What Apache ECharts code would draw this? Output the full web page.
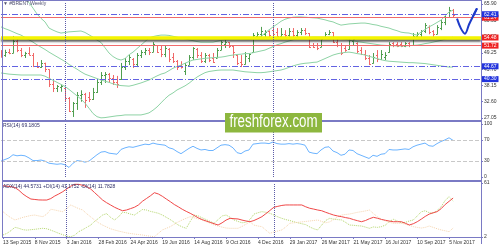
<!DOCTYPE html>
<html><head><meta charset="utf-8">
<script src="https://cdn.jsdelivr.net/npm/echarts@6/dist/echarts.min.js"></script>
<style>html,body{margin:0;padding:0;background:#fff;}#c{width:500px;height:250px;}</style>
</head><body><div id="c"></div>
<script>
const tickLabels = ['13 Sep 2015','8 Nov 2015','3 Jan 2016','28 Feb 2016','24 Apr 2016','19 Jun 2016','14 Aug 2016','9 Oct 2016','4 Dec 2016','29 Jan 2017','26 Mar 2017','21 May 2017','16 Jul 2017','10 Sep 2017','5 Nov 2017'];

const opens = [49.0,48.4,49.6,49.3,53.2,50.3,48.6,49.3,48.6,44.8,
 44.6,45.8,43.6,38.5,37.3,37.6,37.2,33.7,29.6,32.0,
 35.0,35.3,34.2,33.5,36.0,39.2,41.8,42.2,40.6,39.4,
 40.4,44.6,46.5,47.2,45.6,48.6,49.5,50.2,49.6,51.8,
 50.6,48.8,50.6,47.8,46.5,45.2,43.0,45.2,47.8,50.4,
 48.4,46.5,48.6,47.6,47.6,50.2,52.4,52.8,51.6,48.5,
 46.2,45.4,47.6,49.4,55.0,55.8,55.8,56.6,57.0,56.2,
 55.0,55.8,55.2,56.6,55.4,56.2,56.9,56.0,52.0,51.8,
 51.4,54.3,55.8,56.2,53.0,51.9,50.8,50.4,53.2,52.6,
 50.2,48.8,47.4,45.8,48.6,47.0,47.8,49.5,52.6,52.4,
 52.4,51.7,52.6,52.0,55.0,55.8,56.6,58.2,56.6,55.8,
 57.8,59.6,61.6,63.8];
const highs = [50.2,50.3,50.6,55.0,54.6,50.9,49.6,51.2,49.2,46.1,
 46.8,45.9,43.6,40.0,38.3,38.4,37.4,34.2,32.5,35.9,
 36.5,35.6,35.9,37.3,40.0,42.7,42.7,42.4,41.7,41.4,
 45.8,47.5,48.5,47.5,49.2,50.2,50.9,50.9,52.9,51.9,
 51.9,51.9,50.9,49.2,46.8,46.4,45.8,48.5,51.2,50.9,
 49.5,49.2,48.9,49.2,50.9,53.6,54.3,52.9,51.9,48.5,
 48.5,49.5,49.2,56.0,56.3,58.1,57.0,56.9,58.8,57.7,
 57.7,57.0,57.7,57.7,57.0,57.7,57.7,56.0,52.6,52.6,
 54.6,56.3,57.0,56.3,54.3,52.6,51.6,54.6,54.3,52.9,
 51.2,50.2,48.5,49.2,50.2,50.2,49.5,52.9,52.9,52.9,
 52.9,52.9,52.9,56.0,56.3,57.0,59.4,58.6,57.0,58.7,
 60.4,62.1,64.9,64.2];
const lows = [47.6,47.9,48.8,49.1,49.5,47.8,47.5,48.4,44.4,44.1,
 44.1,42.7,37.6,35.9,35.9,36.0,32.5,29.1,27.4,29.8,
 32.6,30.5,32.5,33.2,35.6,38.3,39.0,39.0,38.3,37.3,
 40.0,43.4,45.1,44.1,44.4,47.5,48.5,48.5,49.5,49.2,
 47.8,47.8,46.1,45.8,43.4,43.9,41.7,45.1,46.8,47.5,
 45.8,45.8,46.1,45.8,47.5,50.2,50.9,50.9,47.5,45.1,
 44.4,45.3,46.1,49.2,54.3,54.6,54.6,54.3,54.6,54.3,
 54.6,54.3,54.6,54.3,54.6,55.3,55.3,50.9,50.9,50.2,
 51.2,54.2,55.3,52.6,51.2,48.5,49.6,50.3,51.9,49.2,
 48.5,46.8,45.1,45.6,46.1,46.8,46.8,49.3,51.2,51.2,
 51.2,51.2,51.2,51.9,54.3,54.6,56.0,55.6,54.7,55.6,
 57.0,58.7,61.5,61.2];
const closes = [48.2,49.6,49.2,53.2,50.3,48.6,49.3,48.6,44.8,44.6,
 45.8,43.6,38.5,37.3,38.0,37.9,33.7,29.6,32.0,35.0,
 35.3,33.2,33.5,36.0,39.2,41.8,42.2,40.6,39.4,38.6,
 44.6,46.5,48.0,45.6,48.6,49.5,50.2,49.4,52.2,49.6,
 48.8,51.0,47.0,46.5,44.6,44.3,45.2,47.8,50.8,48.4,
 46.5,48.6,46.8,46.2,50.2,52.8,53.0,51.6,49.5,45.8,
 45.4,48.2,48.8,55.2,55.8,56.6,56.3,55.4,55.6,55.0,
 55.8,55.2,56.6,55.4,56.3,56.9,56.0,51.4,51.2,50.8,
 54.0,55.8,56.4,53.0,51.9,49.2,50.2,53.6,53.9,49.9,
 48.8,47.4,45.6,48.0,47.0,49.0,48.6,52.2,51.8,51.6,
 51.7,52.6,51.9,55.0,55.8,56.6,58.6,56.2,55.6,58.2,
 59.8,61.6,63.8,62.0];

const bbUpper = [71,70.5,70,69.5,68.8,68,67.3,66.4,64.5,62.5,
 61,59.8,57.7,57,56.4,56,56.2,56.4,56.5,56.6,
 56.7,56.2,55.4,54.6,53.6,52.8,51,49.2,48,47.2,
 46.8,47.3,48.6,49.5,50.7,51.9,53.1,54.3,54.8,55.1,
 55.3,55.3,55.2,54.9,54.6,54.3,54,53.7,53.4,53.1,
 52.9,52.9,52.9,52.9,53.2,53.5,53.8,53.9,53.9,53.9,
 53.9,53.8,53.8,54.1,54.4,54.8,56,57.1,58.1,59,
 60,60.7,61.1,61.4,61.5,61.5,61.4,61.3,61.2,61.1,
 60.8,60.5,60.1,59.8,59.2,58.7,58.9,59.1,59.2,59.3,
 59.4,59.4,59.2,58.9,58.7,58.3,58,57.7,57.2,56.8,
 56.3,56.1,56,55.6,55.3,56.3,57.2,58.1,58.8,59.6,
 60.4,61.8,63.2,63.8];
const bbMiddle = [58.1,57.5,57,56.4,55.8,55.3,54.5,53.7,52.9,52,
 51.2,50.4,49.5,48.7,47.9,47.1,46.3,45.3,44.5,43.7,
 42.8,42,41.5,41,40.5,40,39.6,39.2,38.7,38.3,
 38.1,38,37.9,38.2,38.6,39,39.5,40,40.7,41.4,
 42,42.4,43.2,44,44.6,45.1,45.7,46.3,46.8,47,
 47.2,47.4,47.5,47.6,47.7,47.8,48,48.3,48.5,48.7,
 48.8,49,49,49.3,49.6,49.9,50.2,50.8,51.4,52,
 52.4,52.9,53.3,53.7,54.1,54.3,54.4,54.5,54.6,54.6,
 54.6,54.6,54.6,54.6,54.4,54.1,53.9,53.6,53.4,53.1,
 52.9,52.7,52.5,52.3,52.1,51.9,51.8,51.7,51.7,51.6,
 51.6,51.6,51.7,51.8,51.9,52.1,52.4,52.6,52.9,53.2,
 53.5,53.9,54.3,54.6];
const bbLower = [42.4,42.2,42,41.9,41.8,41.7,41.7,41.7,41.7,41.7,
 41.7,41.3,40.6,39.9,39.2,38.5,37.8,36.8,35.7,34.6,
 33.5,32.1,30.4,28.6,27.5,27.1,27.2,27.4,27.6,27.8,
 27.9,28.1,28.1,28.1,28.1,28.1,28.4,28.8,29.7,30.8,
 32.2,33.6,34.8,35.6,36.6,37.3,38,38.9,40,41,
 41.8,42.5,42.9,43.1,43.3,43.4,43.4,43.4,43.4,43.2,
 43,42.8,42.7,42.6,42.5,42.5,42.6,42.8,43,43.2,
 43.4,43.8,44.3,44.8,45.2,45.5,45.7,45.8,46,46.1,
 46.7,47.3,47.9,48.5,48.9,49.2,49.4,49.5,49.3,49,
 48.8,48.5,48.1,47.7,47.3,46.9,46.6,46.4,46.3,46.2,
 46.1,46,45.9,45.9,45.8,45.7,45.6,45.4,45.2,45,
 44.8,44.6,44.4,44.4];

const rsi = [30,33,36,42,40,41,40,36,31,31,
 32,30,26,25,24,25,23,18,26,31,
 30,28,30,36,42,47,48,45,44,43,
 52,55,57,56,58,60,62,61,64,62,
 61,60,55,53,48,44,49,54,58,54,
 51,52,50,50,55,60,61,60,55,46,
 44,49,51,62,63,64,64,63,66,63,
 62,62,63,62,63,62,60,47,45,44,
 51,56,57,49,46,41,43,51,50,44,
 41,38,35,41,39,43,44,52,51,51,
 52,53,52,57,60,62,64,59,58,63,
 67,70,74,69.18];
const adx = [58,57.5,57,56,53,49,46,43.5,43,42.5,
 42.4,42.4,44,46.8,49,51.5,54.5,57.5,59.6,59.5,
 58.5,57,54.5,50.5,46.5,42.4,39.5,37,34.5,32.5,
 30.7,31.5,33,34.5,37,41,44,47,50.4,49,
 46.5,43.5,40.6,37.5,35,32.3,30,27.9,25.5,23,
 21,19.5,18,16.5,15.1,17.5,20.5,22.4,22,21.7,
 20.5,19.5,18.7,20,22,24.2,27.5,31,34.5,35.5,
 36.5,37,37,37,37,37,35,33.4,32.5,31.5,
 30.7,29,27.5,26,25,24.2,23.2,22.4,21,19.8,
 18.7,20,22,23.5,22.5,21.2,20.3,19.4,18.7,18.7,
 18.7,17,15.1,16.5,18.7,21.5,24.5,27,28.5,29.7,
 33,37.5,41,44.57];
const plusDI = [4.2,6,9,12.6,11.5,10,9.5,10,10.4,11,
 11.5,11,9.5,7.8,6,4.5,3,2.3,4,7.8,
 10,12.5,15,19,22.4,26,27.5,23.5,20.6,24,
 29,28.5,27,26,29,32,31.5,30,29,27.9,
 26,23.5,21,18,15.1,13,11.5,19,26,25,
 23,21,19,17,21,25,26,23.5,20.6,19,
 17.5,18,21,27,28.5,29.7,29,27.9,26,24,
 22.4,21,20,18.7,17.5,16.5,15.5,13,11,9.7,
 15,20,22.4,21.5,21,20.6,18,15.1,14.8,14.3,
 14,12.8,11.5,13,12.5,13.3,15,19,21.3,19.5,
 17.5,18,19.5,20.6,25,29.5,30.7,28.5,28,31,
 35.1,42,46,41.18];
const minusDI = [29.7,26,23,20.6,22,23.5,24.5,25.5,26,25,
 24.2,27,32.3,31.5,30.5,29.7,33,37,35,33,
 31.5,27.5,24,20.6,17.5,15,13,11,9.7,8.5,
 7.5,6.5,5.8,5.2,4.7,4.2,3.5,2.8,2.3,6,
 9.7,11.5,13.3,16,18.5,20.6,22.5,24.2,23,21.8,
 20.6,18.8,17,15.1,14,12.8,11.8,11.5,11.5,11.5,
 13.5,16,18.5,15,14,13.3,9.5,6,7.5,8.5,
 9.7,13,17,17.5,18,18.5,19,19.5,20,20.6,
 19,17.5,18.5,21,24,26,26.6,27.1,28,29,
 29.7,30.5,31.5,27.5,24.2,21.5,19.5,18,17,17,
 17,16,14.8,13.3,12.5,11.8,12.5,14,12.5,11,
 9.7,8.8,7.8,11.78];

const priceTicks = [27.05,32.60,38.15,43.70,49.25,54.80,60.35,65.90];
const rsiTicks = [0,30,70,100];
const rsiLevels = [70,30];
const adxTicks = [2,61];
const blueLevels = [62.41,44.67,40.30];
const redLevels = [61.24,51.72];
const yellowLevels = [54.48];
const yearStartIdx = [16,68];
const arrowPath = [60.9,57.5,55.8,58.9,61.7,64.4];
const futureWeeks = 7;

const months = ['Jan','Feb','Mar','Apr','May','Jun','Jul','Aug','Sep','Oct','Nov','Dec'];
const nBars = closes.length;
const categories = [];
const t0 = Date.UTC(2015,8,13);
for (let i=0;i<nBars+futureWeeks;i++){
  const d = new Date(t0 + i*7*86400000);
  categories.push(d.getUTCDate()+' '+months[d.getUTCMonth()]+' '+d.getUTCFullYear());
}
const ohlcData = closes.map((c,i)=>[i, opens[i], c, lows[i], highs[i]]);
const arrowData = new Array(nBars).fill(null).concat(arrowPath);

const FRAME = '#7a7ac4';
const FONT = 'Liberation Sans';
const BULL = '#4f9e4f', BEAR = '#f06868';
const BB = '#8ed3a5';

function renderOHLC(params, api){
  const i = api.value(0);
  const o = api.coord([i, api.value(1)]);
  const c = api.coord([i, api.value(2)]);
  const l = api.coord([i, api.value(3)]);
  const h = api.coord([i, api.value(4)]);
  const x = Math.round(o[0]) + 0.5;
  const col = api.value(2) >= api.value(1) ? BULL : BEAR;
  const st = {stroke: col, lineWidth: 1};
  const oy = Math.round(o[1]) + 0.5, cy = Math.round(c[1]) + 0.5;
  return {type:'group', children:[
    {type:'line', shape:{x1:x, y1:h[1], x2:x, y2:l[1]}, style:st},
    {type:'line', shape:{x1:x-1.5, y1:oy, x2:x, y2:oy}, style:st},
    {type:'line', shape:{x1:x, y1:cy, x2:x+1.5, y2:cy}, style:st}
  ]};
}

function yearLines(){
  return yearStartIdx.map(i => ({xAxis: categories[i], lineStyle:{color:'#5c5ca8', type:'dotted', width:1}, label:{show:false}}));
}
function levelLine(v, color, type, width, boxColor, extra){
  return Object.assign({
    yAxis: v,
    lineStyle: {color: color, type: type, width: width},
    label: {show:true, position:'end', distance:1, formatter: p => Number(p.value).toFixed(2),
      color:'#fff', backgroundColor: boxColor, fontSize:5, fontFamily: FONT, padding:[1,2,0,2]}
  }, extra || {});
}

const xBase = {type:'category', data: categories, boundaryGap:false,
  axisLine:{show:false}, axisTick:{show:false}, axisLabel:{show:false}, splitLine:{show:false}};

const option = {
  animation:false,
  backgroundColor:'#ffffff',
  textStyle:{fontFamily: FONT},
  title:[
    {text:'\u25BC #BRENT,Weekly', left:3, top:1, padding:0, textStyle:{fontSize:5, fontWeight:'normal', color:'#505070', fontFamily:FONT}},
    {text:'RSI(14) 69.1805', left:3, top:123, padding:0, textStyle:{fontSize:5, fontWeight:'normal', color:'#303068', fontFamily:FONT}},
    {text:'ADX(14) 44.5731 +DI(14) 41.1752 -DI(14) 11.7828', left:3, top:184, padding:0, textStyle:{fontSize:5, fontWeight:'normal', color:'#303068', fontFamily:FONT}}
  ],
  grid:[
    {left:1, width:480, top:2, height:118},
    {left:1, width:480, top:124, height:53},
    {left:1, width:480, top:183, height:54}
  ],
  xAxis:[
    Object.assign({}, xBase, {gridIndex:0}),
    Object.assign({}, xBase, {gridIndex:1}),
    Object.assign({}, xBase, {gridIndex:2,
      axisTick:{show:true, length:2, lineStyle:{color:FRAME}, interval:(idx)=> idx%8===0 && idx/8 < tickLabels.length},
      axisLabel:{show:true, fontSize:5, color:'#333', margin:3, align:'left', fontFamily:FONT,
        interval:(idx)=> idx%8===0 && idx/8 < tickLabels.length,
        formatter:(v, idx)=> tickLabels[idx/8] || ''}})
  ],
  yAxis:[
    {gridIndex:0, type:'value', position:'right', min:26.37, max:66.58,
      axisLine:{show:true, lineStyle:{color:FRAME}}, splitLine:{show:false},
      axisTick:{show:true, length:2, customValues: priceTicks, lineStyle:{color:FRAME}},
      axisLabel:{fontSize:5, color:'#333', margin:3, customValues: priceTicks, formatter: v => Number(v).toFixed(2)}},
    {gridIndex:1, type:'value', position:'right', min:0, max:100,
      axisLine:{show:true, lineStyle:{color:FRAME}}, splitLine:{show:false},
      axisTick:{show:true, length:2, customValues: rsiTicks, lineStyle:{color:FRAME}},
      axisLabel:{fontSize:5, color:'#333', margin:3, customValues: rsiTicks}},
    {gridIndex:2, type:'value', position:'right', min:2, max:61,
      axisLine:{show:true, lineStyle:{color:FRAME}}, splitLine:{show:false},
      axisTick:{show:true, length:2, customValues: adxTicks, lineStyle:{color:FRAME}},
      axisLabel:{fontSize:5, color:'#333', margin:3, customValues: adxTicks}}
  ],
  series:[
    {type:'line', name:'yellow', xAxisIndex:0, yAxisIndex:0, data:[], silent:true,
      markLine:{symbol:'none', silent:true, animation:false,
        data: yellowLevels.map(v => levelLine(v, '#f5f500', 'solid', 3.5, '#ee2222',
          {lineStyle:{color:'#f5f500', width:3.5, type:'solid', shadowColor:'rgba(40,40,40,0.75)', shadowBlur:2, shadowOffsetY:2}}))}},
    {type:'line', name:'red', xAxisIndex:0, yAxisIndex:0, data:[], silent:true,
      markLine:{symbol:'none', silent:true, animation:false,
        data: redLevels.map(v => levelLine(v, '#f06a6a', 'solid', 1, '#ee2222'))}},
    {type:'line', name:'blue', xAxisIndex:0, yAxisIndex:0, data:[], silent:true,
      markLine:{symbol:'none', silent:true, animation:false,
        data: blueLevels.map(v => levelLine(v, '#6262e2', [6,2,1,2], 1, '#2233dd'))}},
    {type:'line', name:'bbU', xAxisIndex:0, yAxisIndex:0, data:bbUpper, symbol:'none', lineStyle:{color:BB, width:1}, silent:true},
    {type:'line', name:'bbM', xAxisIndex:0, yAxisIndex:0, data:bbMiddle, symbol:'none', lineStyle:{color:BB, width:1}, silent:true},
    {type:'line', name:'bbL', xAxisIndex:0, yAxisIndex:0, data:bbLower, symbol:'none', lineStyle:{color:BB, width:1}, silent:true},
    {type:'custom', name:'ohlc', xAxisIndex:0, yAxisIndex:0, data: ohlcData, renderItem: renderOHLC, clip:true,
      encode:{x:0, y:[1,2,3,4]}, silent:true,
      markLine:{symbol:'none', silent:true, animation:false, data: yearLines()}},
    {type:'line', name:'arrow', xAxisIndex:0, yAxisIndex:0, data: arrowData, symbol:'none', smooth:0.35,
      lineStyle:{color:'#1d3ac9', width:2}, silent:true, z:5,
      markLine:{symbol:['none','arrow'], symbolSize:[0,8], silent:true, animation:false,
        lineStyle:{color:'#1d3ac9', width:2, type:'solid'}, label:{show:false},
        data:[[{coord:[nBars+arrowPath.length-2, arrowPath[arrowPath.length-2]]},{coord:[nBars+arrowPath.length-1, arrowPath[arrowPath.length-1]]}]]}},
    {type:'line', name:'rsi', xAxisIndex:1, yAxisIndex:1, data: rsi, symbol:'none', lineStyle:{color:'#6cb4ff', width:1}, silent:true,
      markLine:{symbol:'none', silent:true, animation:false,
        data: rsiLevels.map(v => ({yAxis:v, lineStyle:{color:'#c8c8c8', type:'dashed', width:1}, label:{show:false}})).concat(yearLines())}},
    {type:'line', name:'plusDI', xAxisIndex:2, yAxisIndex:2, data: plusDI, symbol:'none', lineStyle:{color:'#b2d46a', width:1, type:'dotted'}, silent:true},
    {type:'line', name:'minusDI', xAxisIndex:2, yAxisIndex:2, data: minusDI, symbol:'none', lineStyle:{color:'#f4d3ad', width:1, type:'dotted'}, silent:true},
    {type:'line', name:'adx', xAxisIndex:2, yAxisIndex:2, data: adx, symbol:'none', lineStyle:{color:'#f04848', width:1}, silent:true,
      markLine:{symbol:'none', silent:true, animation:false, data: yearLines()}}
  ],
  graphic:[
    {type:'line', z:50, shape:{x1:0, y1:0.5, x2:481, y2:0.5}, style:{stroke:FRAME, lineWidth:1}},
    {type:'line', z:50, shape:{x1:2.5, y1:0, x2:2.5, y2:238}, style:{stroke:FRAME, lineWidth:1}},
    {type:'rect', z:50, shape:{x:2, y:120, width:479, height:2}, style:{fill:FRAME}},
    {type:'rect', z:50, shape:{x:2, y:180, width:479, height:2}, style:{fill:FRAME}},
    {type:'line', z:50, shape:{x1:2, y1:237.5, x2:481, y2:237.5}, style:{stroke:FRAME, lineWidth:1}},
    {type:'line', z:50, shape:{x1:481.5, y1:0, x2:481.5, y2:244}, style:{stroke:FRAME, lineWidth:1}},
    {type:'rect', z:100, shape:{x:225, y:113, width:97, height:19.5}, style:{fill:'#8db73f'}},
    {type:'text', z:101, x:273.5, y:122.5, scaleX:0.74, style:{text:'freshforex.com', fill:'#ffffff', font:'18px "Liberation Sans"', textAlign:'center', textVerticalAlign:'middle'}}
  ]
};
const chart = echarts.init(document.getElementById('c'), null, {renderer:'canvas'});
chart.setOption(option);
</script>
</body></html>
